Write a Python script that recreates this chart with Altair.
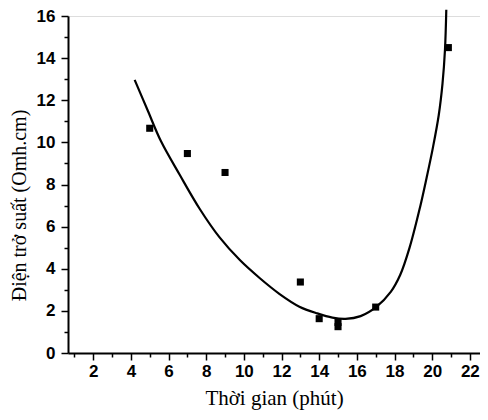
import altair as alt
import pandas as pd

# measured points
pt_x = [5, 7, 9, 13, 14, 15, 15, 17, 20.86]
pt_y = [10.67, 9.47, 8.57, 3.37, 1.63, 1.45, 1.25, 2.18, 14.5]

# fitted curve
cv_x = [4.2, 4.9, 5.6, 6.6, 7.65, 8.7, 9.8, 10.85, 11.9, 12.95, 13.9, 14.7,
        15.4, 16.2, 17.05, 17.8, 18.3, 18.8, 19.35, 19.7, 20.05, 20.35, 20.55, 20.68, 20.75]
cv_y = [12.97, 11.5, 10.05, 8.45, 6.85, 5.5, 4.4, 3.55, 2.8, 2.2, 1.88, 1.68,
        1.62, 1.75, 2.2, 2.9, 3.7, 5.0, 6.9, 8.3, 9.8, 11.3, 12.8, 14.4, 16.3]

x_major = [2, 4, 6, 8, 10, 12, 14, 16, 18, 20, 22]
x_minor = [1, 3, 5, 7, 9, 11, 13, 15, 17, 19, 21]
y_major = [0, 2, 4, 6, 8, 10, 12, 14, 16]
y_minor = [1, 3, 5, 7, 9, 11, 13, 15]

x_title = "Thời gian (phút)"
y_title = "Điện trở suất (Omh.cm)"

pts = pd.DataFrame({"x": pt_x, "y": pt_y})
curve = pd.DataFrame({"x": cv_x, "y": cv_y, "o": list(range(len(cv_x)))})

xs = alt.Scale(domain=[0.66, 22.54], nice=False, zero=False)
ys = alt.Scale(domain=[0, 16], nice=False, zero=False)

lab = dict(labelFont="Liberation Sans", labelFontSize=17, labelFontWeight="bold",
           labelColor="black", tickColor="black", domainColor="black",
           tickWidth=1.5, domainWidth=2, grid=False)

line = alt.Chart(curve).mark_line(color="black", strokeWidth=2.2, clip=False,
                                  interpolate="catmull-rom").encode(
    x=alt.X("x:Q", scale=xs, axis=alt.Axis(
        values=x_major, tickSize=7, labelPadding=3, title=x_title, orient="bottom",
        titleFont="Liberation Serif", titleFontSize=21, titleFontWeight="normal",
        titleColor="black", titlePadding=8, **lab)),
    y=alt.Y("y:Q", scale=ys, axis=alt.Axis(
        values=y_major, tickSize=7, labelPadding=6, title=y_title, orient="left",
        titleFont="Liberation Serif", titleFontSize=20, titleFontWeight="normal",
        titleColor="black", titleX=-39, titleY=189, **lab)),
    order="o:Q",
)

points = alt.Chart(pts).mark_point(shape="square", filled=True, color="black",
                                   size=50, opacity=1).encode(
    x=alt.X("x:Q", scale=xs, axis=alt.Axis(
        values=x_minor, tickSize=4, labels=False, domain=False, title=None,
        orient="bottom", tickColor="black", tickWidth=1.5, grid=False)),
    y=alt.Y("y:Q", scale=ys, axis=alt.Axis(
        values=y_minor, tickSize=4, labels=False, domain=False, title=None,
        orient="left", tickColor="black", tickWidth=1.5, grid=False)),
)

chart = alt.layer(line, points).resolve_axis(x="independent", y="independent").properties(
    width=412, height=337,
    autosize=alt.AutoSizeParams(type="none"),
    padding={"left": 60, "top": 8, "right": 0, "bottom": 58},
).configure_view(stroke=None).configure(background="white")

chart.save("out.html", embed_options={"renderer": "svg", "actions": False})
